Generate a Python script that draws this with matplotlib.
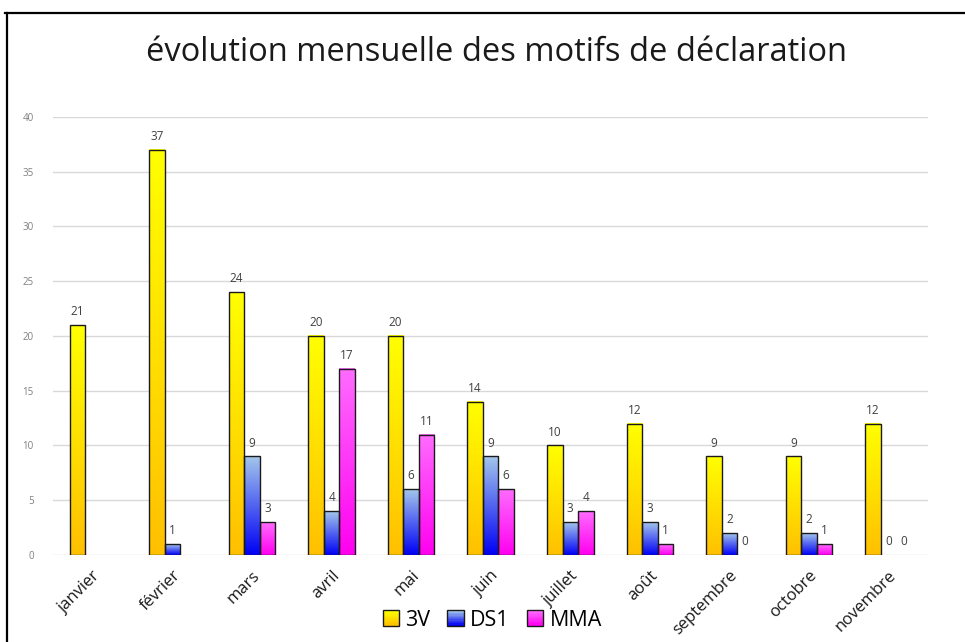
import numpy as np
import matplotlib
matplotlib.use("Agg")
import matplotlib.pyplot as plt
from matplotlib.colors import LinearSegmentedColormap
from matplotlib.patches import Patch, Rectangle
from matplotlib.lines import Line2D
from matplotlib.legend_handler import HandlerBase

months = ["janvier", "février", "mars", "avril", "mai", "juin",
          "juillet", "août", "septembre", "octobre", "novembre"]
v3 = [21, 37, 24, 20, 20, 14, 10, 12, 9, 9, 12]
ds1 = [np.nan, 1, 9, 4, 6, 9, 3, 3, 2, 2, 0]
mma = [np.nan, np.nan, 3, 17, 11, 6, 4, 1, 0, 1, 0]

series = [("3V", v3, "#FFFF00", "#FFC000"),
          ("DS1", ds1, "#A3C6EC", "#0000F5"),
          ("MMA", mma, "#FF6CFF", "#FF00F0")]

plt.rcParams["font.family"] = ["Open Sans", "DejaVu Sans"]


class GradientHandler(HandlerBase):
    # legend square with the same vertical gradient as the bars
    def __init__(self, c_top, c_bot):
        super().__init__()
        self.cmap = LinearSegmentedColormap.from_list("h", [c_bot, c_top])

    def create_artists(self, legend, orig_handle, xdescent, ydescent,
                       width, height, fontsize, trans):
        n = 12
        arts = []
        for k in range(n):
            arts.append(Rectangle((-xdescent, -ydescent + k * height / n), width,
                                  height / n + 0.05, facecolor=self.cmap(k / (n - 1)),
                                  edgecolor="none", transform=trans))
        arts.append(Rectangle((-xdescent, -ydescent), width, height,
                              facecolor="none", edgecolor="#1a1a1a",
                              linewidth=1.0, transform=trans))
        return arts


fig = plt.figure(figsize=(9.65, 6.42), dpi=100)
ax = fig.add_axes([0.055, 0.1355, 0.907, 0.6823])

x = np.arange(len(months))
width = 0.195
grad = np.linspace(0, 1, 200).reshape(-1, 1)

for i, (name, vals, c_top, c_bot) in enumerate(series):
    vals = np.array(vals, dtype=float)
    pos = x + (i - 1) * width
    bars = ax.bar(pos, np.nan_to_num(vals), width, facecolor="none",
                  edgecolor="#1a1a1a", linewidth=1.0, zorder=3)
    cmap = LinearSegmentedColormap.from_list(name, [c_bot, c_top])
    for p, v in zip(bars.patches, vals):
        if np.isnan(v):
            p.set_visible(False)
            continue
        if v > 0:
            ax.imshow(grad, extent=[p.get_x(), p.get_x() + p.get_width(), 0, v],
                      origin="lower", cmap=cmap, aspect="auto", zorder=2)
        else:
            p.set_visible(False)
        ax.annotate(f"{int(v)}", (p.get_x() + p.get_width() / 2, v),
                    xytext=(0, 5), textcoords="offset points",
                    ha="center", va="bottom", fontsize=8.5, color="#404040")

ax.set_xlim(-0.5, len(months) - 0.5)
ax.set_ylim(0, 40)
ax.set_yticks(range(0, 41, 5))
ax.tick_params(axis="y", length=0, labelsize=7, labelcolor="#808080", pad=14)
ax.tick_params(axis="x", length=0, pad=9)
ax.set_xticks(x)
ax.set_xticklabels(months, rotation=45, ha="right", rotation_mode="anchor",
                   fontsize=12, color="#1a1a1a")
ax.grid(axis="y", color="#d9d9d9", linewidth=1.0, zorder=0)
ax.set_axisbelow(True)
for s in ax.spines.values():
    s.set_visible(False)

fig.text(0.514, 0.918, "évolution mensuelle des motifs de déclaration",
         ha="center", va="center", fontsize=23.5, color="#1a1a1a")

handles = [Patch(label=name) for name, _, _, _ in series]
handler_map = {h: GradientHandler(c_top, c_bot)
               for h, (_, _, c_top, c_bot) in zip(handles, series)}
fig.legend(handles=handles, handler_map=handler_map, loc="center",
           bbox_to_anchor=(0.51, 0.034), ncol=3, frameon=False, fontsize=15.5,
           handlelength=0.75, handleheight=0.75, handletextpad=0.3,
           columnspacing=0.8)

# outer frame
fig.add_artist(Line2D([5 / 965, 1], [1 - 13 / 642, 1 - 13 / 642],
                      color="black", linewidth=1.6, transform=fig.transFigure))
fig.add_artist(Line2D([7 / 965, 7 / 965], [0, 1 - 13 / 642],
                      color="black", linewidth=1.6, transform=fig.transFigure))

fig.savefig("out.png", dpi=100)
